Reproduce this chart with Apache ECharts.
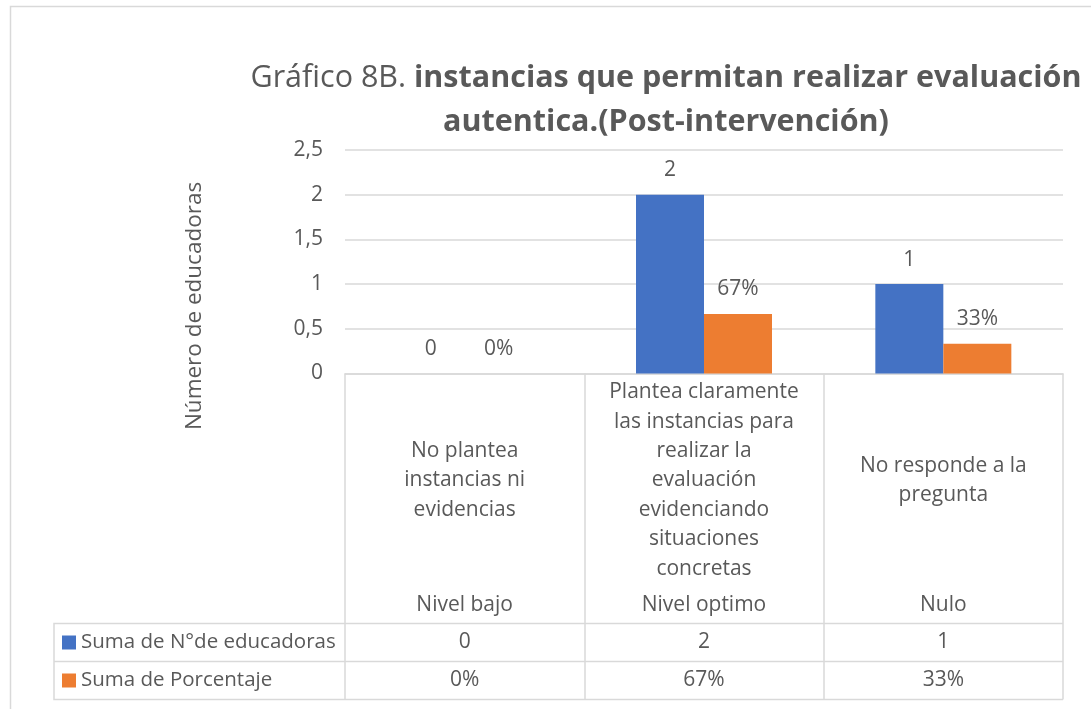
<!DOCTYPE html>
<html>
<head>
<meta charset="utf-8">
<script src="https://cdn.jsdelivr.net/npm/echarts@6/dist/echarts.min.js"></script>
<style>
  html, body { margin: 0; padding: 0; background: #fff; }
  #chart { width: 1091px; height: 709px; }
</style>
</head>
<body>
<div id="chart"></div>
<script>
const categories = [
  'No plantea\ninstancias ni\nevidencias',
  'Plantea claramente\nlas instancias para\nrealizar la\nevaluación\nevidenciando\nsituaciones\nconcretas',
  'No responde a la\npregunta',
];
const levels = ['Nivel bajo', 'Nivel optimo', 'Nulo'];
const educadoras = [0, 2, 1];
const porcentaje = [0, 0.6667, 0.3333];
const seriesNames = ['Suma de N°de educadoras', 'Suma de Porcentaje'];

const FONT = 'Open Sans';
const TEXT = '#595959';
const LINE = '#d9d9d9';
const FS = 21;

const pct = (v) => Math.round(v * 100) + '%';

const tableAxis = (margin, fmt) => ({
  type: 'category',
  gridIndex: 0,
  position: 'bottom',
  data: categories,
  axisLine: { show: false },
  axisTick: { show: false },
  axisLabel: {
    margin: margin,
    verticalAlign: 'middle',
    fontFamily: FONT,
    fontSize: FS,
    color: TEXT,
    interval: 0,
    formatter: fmt,
  },
});

const chart = echarts.init(document.getElementById('chart'));

chart.setOption({
  backgroundColor: '#fff',
  animation: false,
  title: {
    left: 661,
    top: 51,
    textAlign: 'center',
    text: '{n|Gráfico 8B. }{b|instancias que permitan realizar evaluación}\n{b|autentica.(Post-intervención)}',
    textStyle: {
      fontWeight: 'normal',
      rich: {
        n: { fontFamily: FONT, fontSize: 30.5, fontWeight: 'normal', color: TEXT, lineHeight: 44 },
        b: { fontFamily: FONT, fontSize: 30.5, fontWeight: 'bold', color: TEXT, lineHeight: 44 },
      },
    },
  },
  legend: {
    orient: 'vertical',
    left: 62,
    top: 632,
    padding: 0,
    icon: 'rect',
    itemWidth: 14,
    itemHeight: 14,
    itemGap: 17,
    selectedMode: false,
    textStyle: { fontFamily: FONT, fontSize: 20.5, color: TEXT },
    data: seriesNames,
  },
  grid: {
    left: 345,
    right: 28,
    top: 150,
    bottom: 335.5,
    outerBoundsMode: 'none',
  },
  xAxis: [
    {
      type: 'category',
      data: categories,
      axisLine: { show: true, lineStyle: { color: LINE, width: 1.5 } },
      axisTick: { show: true, length: 326, lineStyle: { color: LINE, width: 1.5 } },
      axisLabel: {
        margin: 107,
        verticalAlign: 'middle',
        lineHeight: 29.4,
        fontFamily: FONT,
        fontSize: FS,
        color: TEXT,
        interval: 0,
      },
    },
    tableAxis(232, (v, i) => levels[i]),
    tableAxis(269, (v, i) => String(educadoras[i])),
    tableAxis(307, (v, i) => pct(porcentaje[i])),
  ],
  yAxis: {
    type: 'value',
    min: 0,
    max: 2.5,
    interval: 0.5,
    axisLine: { show: false },
    axisTick: { show: false },
    splitLine: { lineStyle: { color: LINE, width: 1.5 } },
    axisLabel: {
      margin: 22,
      fontFamily: FONT,
      fontSize: FS,
      color: TEXT,
      formatter: (v) => String(v).replace('.', ','),
    },
  },
  series: [
    {
      name: seriesNames[0],
      type: 'bar',
      data: educadoras,
      barWidth: 68,
      barGap: '0%',
      itemStyle: { color: '#4472C4' },
      label: {
        show: true,
        position: 'top',
        distance: 14,
        fontFamily: FONT,
        fontSize: FS,
        color: TEXT,
      },
    },
    {
      name: seriesNames[1],
      type: 'bar',
      data: porcentaje,
      barWidth: 68,
      barGap: '0%',
      itemStyle: { color: '#ED7D31' },
      label: {
        show: true,
        position: 'top',
        distance: 14,
        fontFamily: FONT,
        fontSize: FS,
        color: TEXT,
        formatter: (p) => pct(p.value),
      },
    },
  ],
  graphic: [
    // chart frame
    {
      type: 'rect',
      shape: { x: 10.5, y: 6.5, width: 1200, height: 800 },
      style: { fill: 'none', stroke: LINE, lineWidth: 1.5 },
      silent: true,
    },
    // data table rows
    {
      type: 'polyline',
      shape: { points: [[1063, 623.5], [54, 623.5], [54, 699.5], [1063, 699.5]] },
      style: { fill: 'none', stroke: LINE, lineWidth: 1.5 },
      silent: true,
    },
    {
      type: 'line',
      shape: { x1: 54, y1: 661.5, x2: 1063, y2: 661.5 },
      style: { stroke: LINE, lineWidth: 1.5 },
      silent: true,
    },
    // y axis title
    {
      type: 'text',
      x: 195,
      y: 306,
      rotation: Math.PI / 2,
      style: {
        text: 'Número de educadoras',
        fontFamily: FONT,
        fontSize: 22.5,
        fill: TEXT,
        align: 'center',
        verticalAlign: 'middle',
      },
      silent: true,
    },
  ],
});
</script>
</body>
</html>
